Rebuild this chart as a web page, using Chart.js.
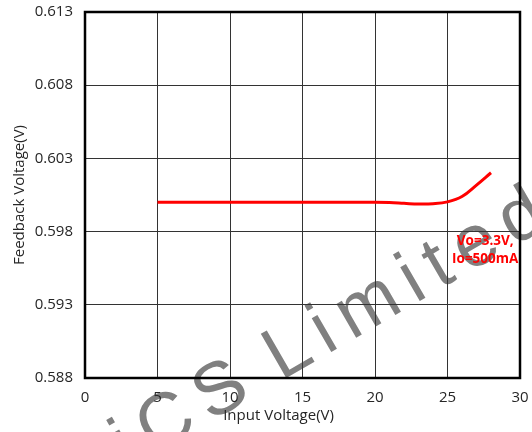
<!DOCTYPE html>
<html>
<head>
<meta charset="utf-8">
<script src="https://cdn.jsdelivr.net/npm/chart.js@4.4.1/dist/chart.umd.min.js"></script>
<style>
  html, body { margin: 0; padding: 0; background: #fff; }
  canvas { display: block; }
</style>
</head>
<body>
<canvas id="chart" width="532" height="432"></canvas>
<script>
const inputVoltage = [5, 10, 15, 20, 21, 22, 23, 24, 25, 26, 27, 28];
const feedbackVoltage = [0.6000, 0.6000, 0.6000, 0.6000, 0.59998, 0.59993, 0.59988, 0.59990, 0.60003, 0.60040, 0.60118, 0.60202];
const xTicks = [0, 5, 10, 15, 20, 25, 30];
const yTicks = [0.588, 0.593, 0.598, 0.603, 0.608, 0.613];
const noteLines = ['Vo=3.3V,', 'Io=500mA'];
const xTitle = 'Input Voltage(V)';
const watermark = 'iCS Limited';

// where the red note sits, in data units
const notePos = { x: 27.6, y: 0.5967 };

const decor = {
  id: 'decor',
  beforeDraw(chart) {
    const ctx = chart.ctx;
    ctx.save();
    ctx.fillStyle = '#fff';
    ctx.fillRect(0, 0, chart.width, chart.height);

    // grey watermark, rotated, under the grid
    const [pre, post] = watermark.split(' ');
    const gap = 12;
    ctx.translate(281, 381);
    ctx.rotate(-Math.PI / 6);
    ctx.font = '74px "Liberation Sans", Arial, sans-serif';
    ctx.fillStyle = '#808080';
    ctx.textBaseline = 'alphabetic';
    let x = 0;
    for (const ch of post) {
      ctx.fillText(ch, x, 0);
      x += ctx.measureText(ch).width + gap;
    }
    x = -ctx.measureText(' ').width - gap;
    for (const ch of pre.split('').reverse()) {
      x -= ctx.measureText(ch).width;
      ctx.fillText(ch, x, 0);
      x -= gap;
    }
    ctx.restore();
  },
  afterDatasetsDraw(chart) {
    const ctx = chart.ctx;
    const xs = chart.scales.x, ys = chart.scales.y;
    const cx = xs.getPixelForValue(notePos.x);
    const cy = ys.getPixelForValue(notePos.y);
    ctx.save();
    ctx.font = 'bold 13.5px "Open Sans", sans-serif';
    ctx.fillStyle = '#ff0000';
    ctx.textAlign = 'center';
    ctx.textBaseline = 'middle';
    ctx.fillText(noteLines[0], cx, cy - 9);
    ctx.fillText(noteLines[1], cx, cy + 9);
    ctx.restore();
  },
  afterDraw(chart) {
    const { left, top, right, bottom } = chart.chartArea;
    const ctx = chart.ctx;
    ctx.save();
    ctx.strokeStyle = '#000';
    ctx.lineWidth = 2.5;
    ctx.strokeRect(left, top, right - left, bottom - top);
    // x axis title sits a little left of centre in the original
    ctx.font = '15px "Open Sans", sans-serif';
    ctx.fillStyle = '#262626';
    ctx.textAlign = 'center';
    ctx.textBaseline = 'middle';
    ctx.fillText(xTitle, left + (right - left) * 0.445, bottom + 38);
    ctx.restore();
  }
};

const ctx = document.getElementById('chart').getContext('2d');
new Chart(ctx, {
  type: 'line',
  data: {
    datasets: [{
      data: inputVoltage.map((v, i) => ({ x: v, y: feedbackVoltage[i] })),
      borderColor: '#ff0000',
      borderWidth: 3,
      pointRadius: 0,
      tension: 0.4,
      fill: false
    }]
  },
  options: {
    responsive: false,
    animation: false,
    events: [],
    layout: { autoPadding: false, padding: { left: 0, right: 12, top: 12, bottom: 0 } },
    plugins: {
      legend: { display: false },
      tooltip: { enabled: false }
    },
    scales: {
      x: {
        type: 'linear',
        min: 0,
        max: 30,
        afterBuildTicks: s => { s.ticks = xTicks.map(v => ({ value: v })); },
        afterFit: s => { s.height = 54; s.paddingLeft = 0; s.paddingRight = 0; },
        grid: { color: '#333', lineWidth: 1, drawTicks: false },
        border: { display: false },
        ticks: {
          color: '#262626',
          font: { family: 'Open Sans', size: 15 },
          padding: 11,
          maxRotation: 0
        }
      },
      y: {
        min: 0.588,
        max: 0.613,
        afterBuildTicks: s => { s.ticks = yTicks.map(v => ({ value: v })); },
        afterFit: s => { s.width = 85; s.paddingTop = 0; s.paddingBottom = 0; },
        grid: { color: '#333', lineWidth: 1, drawTicks: false },
        border: { display: false },
        ticks: {
          color: '#262626',
          font: { family: 'Open Sans', size: 15 },
          padding: 12,
          callback: v => v.toFixed(3)
        },
        title: {
          display: true,
          text: 'Feedback Voltage(V)',
          color: '#262626',
          font: { family: 'Open Sans', size: 15 },
          padding: { top: 11, bottom: 0 }
        }
      }
    }
  },
  plugins: [decor]
});
</script>
</body>
</html>
